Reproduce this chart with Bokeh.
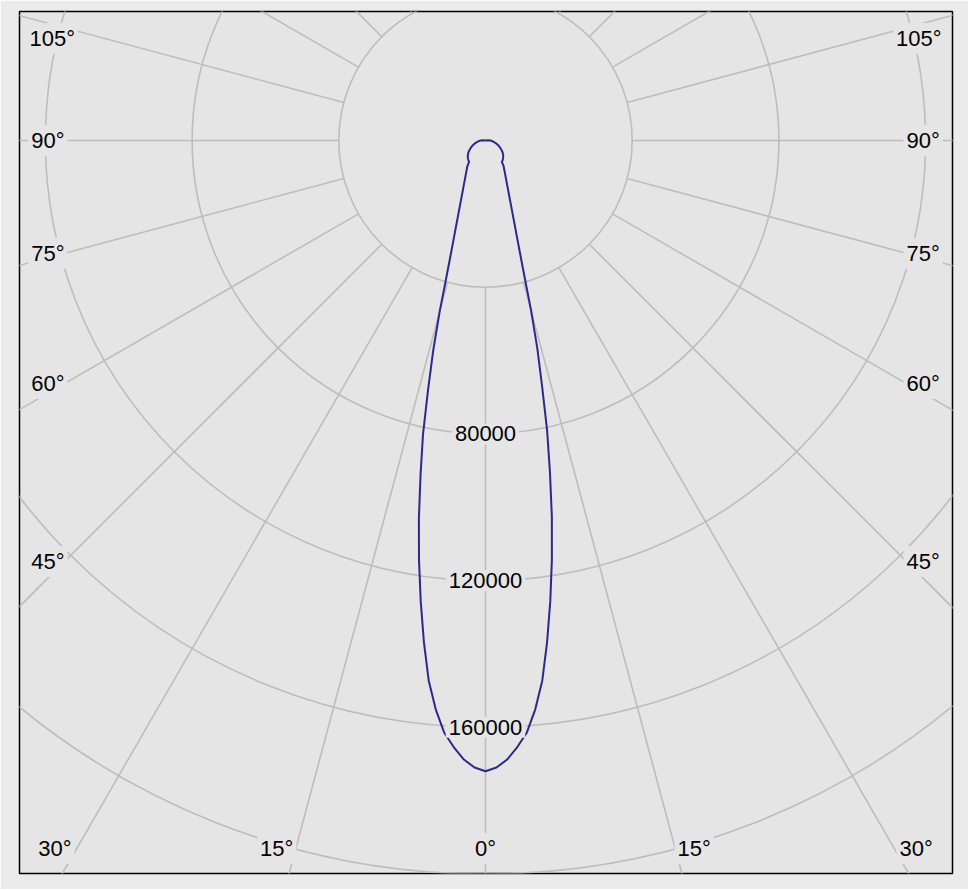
import numpy as np
from bokeh.plotting import figure
from bokeh.models import Range1d
from bokeh.core.properties import value
from bokeh.embed import file_html
from bokeh.resources import INLINE

# ---------------- data ----------------
angles_deg = [0, 1, 2, 3, 4, 5, 6, 7, 8, 9, 10, 11, 12, 13, 14, 15, 16, 17, 18, 19,
              20, 22, 24, 26, 28, 30, 32, 35, 37.5, 40, 45, 50, 55, 60, 65, 70, 75, 80,
              85, 90, 95, 100]
# intensity (cd) for the right half (C0) and left half (C180)
intensity_right = [172000, 171000, 168900, 165600, 161800, 155700, 148100, 137800, 126900, 115700,
                   104200, 92100, 80800, 68400, 58400, 48100, 38500, 32300, 27900, 24600,
                   22000, 18100, 15450, 13470, 11950, 10760, 9800, 8640, 7300, 7200,
                   6800, 6300, 5700, 5000, 4300, 3600, 2950, 2350,
                   1800, 1300, 700, 0]
intensity_left = [172000, 171000, 168900, 165600, 161800, 155700, 148100, 137800, 126900, 115900,
                  104600, 92800, 82000, 69500, 58800, 48300, 38500, 32300, 27900, 24600,
                  22000, 18100, 15450, 13470, 11950, 10760, 9800, 8640, 7300, 7200,
                  6800, 6300, 5700, 5000, 4300, 3600, 2950, 2350,
                  1800, 1300, 700, 0]
ring_values = [40000, 80000, 120000, 160000, 200000, 240000]
ring_label_values = [80000, 120000, 160000]
spoke_angles = list(range(0, 360, 15))
angle_label_values = [0, 15, 30, 45, 60, 75, 90, 105]

# ---------------- layout / style ----------------
BG = "#e5e5e5"
BORDER = "#ebebeb"
GRID = "#bdbdbd"
CURVE = "#2b2a8c"
FONT = "Liberation Sans"
FSIZE = "22px"
PAD = 3

PX = 40000 / 146.7          # candela per screen pixel
FW, FH = 933, 862           # frame size
CX, CY = 466, 129           # pole position inside the frame (px)
x0, x1 = -CX * PX, (FW - CX) * PX
y0, y1 = -(FH - CY) * PX, CY * PX

p = figure(frame_width=FW, frame_height=FH,
           x_range=Range1d(x0, x1), y_range=Range1d(y0, y1),
           output_backend="svg", toolbar_location=None,
           x_axis_location=None, y_axis_location=None,
           min_border_left=19, min_border_right=16, min_border_top=11, min_border_bottom=16,
           background_fill_color=BG, border_fill_color=BORDER)
p.grid.visible = False
p.outline_line_color = "black"
p.outline_line_width = 1.5

# rings
p.circle(x=[0] * len(ring_values), y=[0] * len(ring_values), radius=ring_values,
         fill_color=None, line_color=GRID, line_width=1.6)

# spokes (start at the first ring)
a = np.radians(spoke_angles)
r_in, r_out = ring_values[0], 10 * ring_values[-1]
p.segment(x0=r_in * np.sin(a), y0=-r_in * np.cos(a),
          x1=r_out * np.sin(a), y1=-r_out * np.cos(a),
          line_color=GRID, line_width=1.6)

# intensity curve
th = np.radians(np.array(angles_deg, dtype=float))
Ir = np.array(intensity_right, dtype=float)
Il = np.array(intensity_left, dtype=float)
xs = np.concatenate([-(Il * np.sin(th))[::-1], (Ir * np.sin(th))[1:]])
ys = np.concatenate([-(Il * np.cos(th))[::-1], -(Ir * np.cos(th))[1:]])
p.line(xs, ys, line_color=CURVE, line_width=2)

# ring labels
p.text(x=[0] * len(ring_label_values), y=[-v for v in ring_label_values],
       text=[str(v) for v in ring_label_values],
       text_font=value(FONT), text_font_size=FSIZE, text_color="black",
       text_align="center", text_baseline="middle",
       background_fill_color=BG, padding=PAD)

# angle labels: placed where each spoke meets an inset rectangle
in_left, in_right = x0 + 45 * PX, x0 + 887 * PX
in_top, in_bottom = y1 - 19 * PX, y1 - 846 * PX
shift_top, shift_bottom = -8 * PX, 9 * PX     # text middle relative to the inset line
groups = {}
for ang in angle_label_values:
    sides = [1] if ang == 0 else [-1, 1]
    for s in sides:
        dx = s * np.sin(np.radians(ang))
        dy = -np.cos(np.radians(ang))
        cands = []
        if dx < -1e-9:
            cands.append((in_left / dx, "x"))
        if dx > 1e-9:
            cands.append((in_right / dx, "x"))
        if dy < -1e-9:
            cands.append((in_bottom / dy, "bottom"))
        if dy > 1e-9:
            cands.append((in_top / dy, "top"))
        t, edge = min(cands)
        px_, py_ = t * dx, t * dy
        if edge == "bottom":
            py_ += shift_bottom
        elif edge == "top":
            py_ += shift_top
        if abs(dx) < 1e-9:
            align = "center"
        elif dx < 0:
            align = "right"
            px_ += PAD * PX
        else:
            align = "left"
            px_ -= PAD * PX
        g = groups.setdefault(align, {"x": [], "y": [], "t": []})
        g["x"].append(px_)
        g["y"].append(py_)
        g["t"].append(f"{ang}°")

for align, g in groups.items():
    p.text(x=g["x"], y=g["y"], text=g["t"],
           text_font=value(FONT), text_font_size=FSIZE, text_color="black",
           text_align=align, text_baseline="middle",
           background_fill_color=BG, padding=PAD)

open("out.html", "w").write(file_html(p, INLINE))
